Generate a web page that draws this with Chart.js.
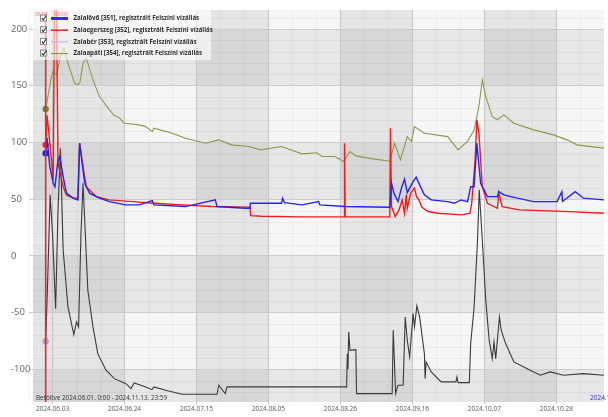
<!DOCTYPE html>
<html>
<head>
<meta charset="utf-8">
<script src="https://cdn.jsdelivr.net/npm/chart.js@4.4.0/dist/chart.umd.min.js"></script>
<style>
  html, body { margin: 0; padding: 0; background: #fff; }
</style>
</head>
<body>
<canvas id="myChart" width="608" height="417"></canvas>
<script>
// days counted from 2024.06.01 0:00
const seriesNames = [
  "Zalalövő [351], regisztrált Felszíni vízállás",
  "Zalaegerszeg [352], regisztrált Felszíni vízállás",
  "Zalabér [353], regisztrált Felszíni vízállás",
  "Zalaapáti [354], regisztrált Felszíni vízállás"
];
const tickDays = [2, 23, 44, 65, 86, 107, 128, 149];
const tickLabels = ["2024.06.03", "2024.06.24", "2024.07.15", "2024.08.05", "2024.08.26", "2024.09.16", "2024.10.07", "2024.10.28"];
const yTicks = [-100, -50, 0, 50, 100, 150, 200];
const cursorDay = 0;
const loadedText = "Betöltve 2024.06.01. 0:00 - 2024.11.13. 23:59";
const endText = "2024.11.13";

const zalaloveDays = [0,0.4,1.2,2.2,2.7,3.6,4.1,5.1,6.05,8.0,9.4,9.9,10.4,11.4,12.8,15.7,18.6,23.4,27.3,31.1,31.6,40.8,49.5,50.0,58.2,59.6,59.7,68.8,69.1,69.7,74.8,79.6,80.0,87.3,100.4,100.9,101.6,102.8,103.8,104.7,105.5,107.2,108.1,109.1,110.5,112.5,117.3,119.2,121.2,123.1,124.0,125.0,125.8,126.9,128.9,131.8,132.2,133.7,137.6,142.4,149.2,150.6,150.8,154.5,156.9,162.9,165];
const zalaloveValues = [90.6,103.8,78.7,64.1,61,84.7,87.6,70,55.3,51,49.4,99.4,87.6,64.1,55.3,50.9,47.9,45,45,48.8,45,43.5,49.4,43.5,42,42,46.4,46.4,50.9,47,45,47.9,45,43.5,42.9,64.1,55.3,47.9,59.7,67.6,55.8,65.5,69.4,62.6,53.8,49.4,47.9,46.4,49.4,47.9,61.1,61,99.4,64.1,52.3,52.3,56.7,53.8,50.9,47.9,47.9,56.7,48,56.7,50.9,49.4,49];

const zalaegerszegDays = [0,0.4,1.2,2.2,2.6,3.1,3.6,5.1,6.05,8.0,9.4,9.9,10.9,11.85,14.75,18.6,25.3,30.5,39.8,48.5,59.6,59.8,63,74.8,87.1,87.2,87.4,100.4,100.6,100.9,102.0,103.1,104.0,104.7,105.2,105.5,106.5,107.6,108.2,108.9,109.8,111.6,114.4,121.5,123.8,124.3,125.3,125.8,126.4,127.4,128.9,131.8,132.2,133.2,138.3,152.8,162.9,165];
const zalaegerszegValues = [97.9,124,100,67,235,235,82,61,53.8,50.9,50.9,99.4,78.7,61,52.3,49.4,47.9,46.7,45,43.5,43,35.5,35,34.4,34.4,99.4,34.4,34.4,112.6,43.5,34.7,40.6,49.4,37.6,53.8,42,55.3,59.7,52.3,49.4,42.9,39.1,37.6,36.2,37.6,46.4,84.7,120,108.2,61.1,46.4,42,55.3,43.5,40.6,39,37.6,37.6];

const zalaberDays = [0,0.5,1.3,2.0,2.9,3.6,4.3,5.1,6.5,8.2,9.0,9.6,10.3,10.9,12.3,13.8,15.2,17.6,20.05,23.4,24.9,25.8,29.2,31.0,31.6,35.0,39.8,50.0,50.5,52.4,52.9,87.8,88.0,88.2,88.4,88.8,90.5,90.7,101.1,101.4,102.1,102.8,104.3,104.9,105.5,106.2,107.2,107.6,108.3,109.1,110.5,110.7,111.0,112.5,115.4,119.7,120.0,120.3,123.6,124.0,125.0,126.0,126.5,127.4,128.4,129.4,130.3,130.8,131.3,132.4,132.9,134.2,136.6,140.5,144.3,147.2,151.1,156.9,162.9,165];
const zalaberValues = [-75.3,-30,53.8,20,-46.5,40,95,5,-45,-69.4,-58.2,-62.6,20,64.1,-30.3,-62.6,-86.2,-100.8,-108.2,-112.6,-117,-112,-115.5,-117.9,-115.5,-118.5,-122,-122,-114,-121.4,-115.5,-115.5,-86.2,-100,-67,-83.2,-82.6,-121.4,-121.4,-65.5,-121.4,-114,-114,-53.8,-74.3,-89,-50.9,-62.6,-44.1,-53.8,-86.2,-108.2,-93.5,-102.3,-111.1,-111.1,-106.7,-111.7,-111.7,-77.3,-45,13.8,58.2,13.8,-39,-74.3,-90.6,-75.8,-90.6,-53.8,-65.5,-77.3,-93.5,-99.4,-105.2,-102.3,-105.2,-103.8,-105.2,-105];

const zalaapatiDays = [0,1.7,2.2,3.2,4.3,5.3,6.5,8.5,9.4,10.0,10.9,11.85,13.8,15.7,18.6,20.0,21.5,22.9,27.3,29.2,31.1,31.6,36.9,40.8,46.6,50.5,54.3,59.2,62.9,68.8,74.8,79.1,80.6,84.4,86.9,88.8,90.5,96.0,100.4,101.8,103.5,105.5,106.7,107.6,110.5,117.3,120.3,123.1,125.0,126.4,127.4,128.4,130.3,131.8,133.7,136.6,142.4,148.2,152.1,155.0,162.9,165];
const zalaapatiValues = [129.6,158,162.5,159.6,176,183,170,152,150.8,153,170,174.3,155,140.5,128.7,124,121.7,117,115.5,114,109.6,112.6,108.2,103.8,99.4,102.3,97.9,96.4,93.5,96.4,90,91,87.6,87.6,83.2,92,88.2,85.3,83.5,99.4,84.7,105.2,100.8,114,108.2,105.2,93.5,101,111,131.7,155.2,140.5,122.8,120,124.3,117,111.1,106.7,102.3,97.9,95,94];

const lineColors = ["#2424ea", "#f01c1c", "#3a3a3a", "#8a9a4c"];
const markerColors = ["#1a1aff", "#ff1a1a", "#b89ccf", "#6e8b2e"];
const legendColors = ["#3030e0", "#e82020", "#b0b0ee", "#6f9a2a"];
const legendWidths = [3, 1.5, 1, 1];

const FONT = "'Open Sans', 'Noto Sans', sans-serif";
Chart.defaults.font.family = FONT;

function toPoints(days, values) {
  return days.map((d, i) => ({ x: d, y: values[i] }));
}

const bandsPlugin = {
  id: "bands",
  beforeDraw(chart) {
    const { ctx, chartArea: a, scales: { x, y } } = chart;
    ctx.save();
    ctx.fillStyle = "#fff";
    ctx.fillRect(0, 0, chart.width, chart.height);
    ctx.fillStyle = "#f6f6f6";
    ctx.fillRect(a.left, a.top, a.width, a.height);

    // alternating 3-week columns
    const edges = [x.min].concat(tickDays.slice(1), [x.max]);
    ctx.fillStyle = "rgba(0,0,0,0.065)";
    for (let i = 0; i + 1 < edges.length; i += 2) {
      const x0 = x.getPixelForValue(edges[i]);
      const x1 = x.getPixelForValue(edges[i + 1]);
      ctx.fillRect(x0, a.top, x1 - x0, a.height);
    }
    // alternating 50-unit rows
    const rows = [y.max, 200, 150, 100, 50, 0, -50, -100, y.min];
    ctx.fillStyle = "rgba(0,0,0,0.06)";
    for (let i = 1; i + 1 < rows.length; i += 2) {
      const y0 = y.getPixelForValue(rows[i]);
      const y1 = y.getPixelForValue(rows[i + 1]);
      ctx.fillRect(a.left, y0, a.width, y1 - y0);
    }

    // minor lines
    ctx.strokeStyle = "rgba(0,0,0,0.045)";
    ctx.lineWidth = 1;
    ctx.beginPath();
    for (let v = -120; v <= 210; v += 10) {
      if (v % 50 === 0) continue;
      const py = Math.round(y.getPixelForValue(v)) + 0.5;
      ctx.moveTo(a.left, py);
      ctx.lineTo(a.right, py);
    }
    for (let d = tickDays[0] - 7; d <= x.max; d += 7) {
      if ((d - tickDays[0]) % 21 === 0) continue;
      const px = Math.round(x.getPixelForValue(d)) + 0.5;
      ctx.moveTo(px, a.top);
      ctx.lineTo(px, a.bottom);
    }
    ctx.stroke();
    ctx.restore();
  }
};

function fitFont(ctx, text, weight, targetWidth) {
  ctx.font = weight + " 10px " + FONT;
  const w = ctx.measureText(text).width;
  return weight + " " + (10 * targetWidth / w).toFixed(2) + "px " + FONT;
}

const overlayPlugin = {
  id: "overlay",
  afterDatasetsDraw(chart) {
    const { ctx, chartArea: a, scales: { x } } = chart;
    const cx = x.getPixelForValue(cursorDay);
    ctx.save();
    ctx.strokeStyle = "#e8262a";
    ctx.lineWidth = 1.6;
    ctx.beginPath();
    ctx.moveTo(cx, a.top + 4);
    ctx.lineTo(cx, a.bottom);
    ctx.stroke();
    ctx.restore();
  },
  afterDraw(chart) {
    const { ctx, chartArea: a } = chart;
    ctx.save();

    // legend
    ctx.fillStyle = "rgba(255,255,255,0.6)";
    ctx.fillRect(a.left, a.top, 178, 50);
    ctx.font = "5px " + FONT;
    ctx.fillStyle = "rgba(230,60,60,0.7)";
    ctx.textBaseline = "middle";
    ctx.fillText("06.01", a.left + 2, a.top + 5);
    ctx.fillText("00:00", a.left + 22, a.top + 5);

    const legendFont = fitFont(ctx, seriesNames[0], "bold", 126);
    seriesNames.forEach((name, i) => {
      const cy = 18.5 + i * 11.7;
      ctx.fillStyle = "rgba(255,255,255,0.9)";
      ctx.fillRect(40.5, cy - 3.5, 6, 6);
      ctx.strokeStyle = "#888";
      ctx.lineWidth = 1;
      ctx.strokeRect(40.5, cy - 3.5, 6, 6);
      ctx.strokeStyle = "#333";
      ctx.lineWidth = 1.1;
      ctx.beginPath();
      ctx.moveTo(41.8, cy - 0.3);
      ctx.lineTo(43.3, cy + 1.4);
      ctx.lineTo(46.3, cy - 3);
      ctx.stroke();

      ctx.strokeStyle = legendColors[i];
      ctx.lineWidth = legendWidths[i];
      ctx.beginPath();
      ctx.moveTo(51, cy);
      ctx.lineTo(68, cy);
      ctx.stroke();

      ctx.fillStyle = "#2e2e2e";
      ctx.font = legendFont;
      ctx.textAlign = "left";
      ctx.fillText(name, 73.5, cy);
    });

    // loaded range text
    ctx.font = fitFont(ctx, loadedText, "normal", 131);
    ctx.fillStyle = "#333";
    ctx.fillText(loadedText, 36, 398);
    ctx.fillStyle = "#3333cc";
    ctx.font = "6.5px " + FONT;
    ctx.fillText(endText, 590, 398);
    ctx.restore();
  }
};

const datasets = [
  [zalaloveDays, zalaloveValues],
  [zalaegerszegDays, zalaegerszegValues],
  [zalaberDays, zalaberValues],
  [zalaapatiDays, zalaapatiValues]
].map(([days, values], i) => ({
  label: seriesNames[i],
  data: toPoints(days, values),
  borderColor: lineColors[i],
  borderWidth: i < 2 ? 1.4 : 1.1,
  pointRadius: ctx => (ctx.dataIndex === 0 ? 3.2 : 0),
  pointBackgroundColor: markerColors[i],
  pointBorderWidth: 0,
  tension: 0,
  clip: 0
}));

const ctx = document.getElementById("myChart").getContext("2d");

new Chart(ctx, {
  type: "line",
  data: { datasets: datasets },
  options: {
    responsive: false,
    animation: false,
    layout: { padding: { top: 10, left: 11, right: 0, bottom: 0 } },
    plugins: {
      legend: { display: false },
      tooltip: { enabled: false }
    },
    scales: {
      x: {
        type: "linear",
        min: -3.7,
        max: 162.9,
        afterBuildTicks: s => { s.ticks = tickDays.map(v => ({ value: v })); },
        afterFit: s => { s.height = 15; },
        ticks: {
          callback: v => tickLabels[tickDays.indexOf(v)],
          autoSkip: false,
          maxRotation: 0,
          color: "#555",
          font: { size: 6.5 },
          padding: 1
        },
        grid: { color: "#c4c4c4", tickLength: 2 },
        border: { display: false }
      },
      y: {
        min: -128.8,
        max: 216.8,
        afterBuildTicks: s => { s.ticks = yTicks.map(v => ({ value: v })); },
        afterFit: s => { s.width = 22; },
        ticks: {
          crossAlign: "far",
          color: "#666",
          font: { size: 9.5 },
          padding: 2
        },
        grid: { color: "#cccccc", tickLength: 4 },
        border: { display: false }
      }
    }
  },
  plugins: [bandsPlugin, overlayPlugin]
});
</script>
</body>
</html>
